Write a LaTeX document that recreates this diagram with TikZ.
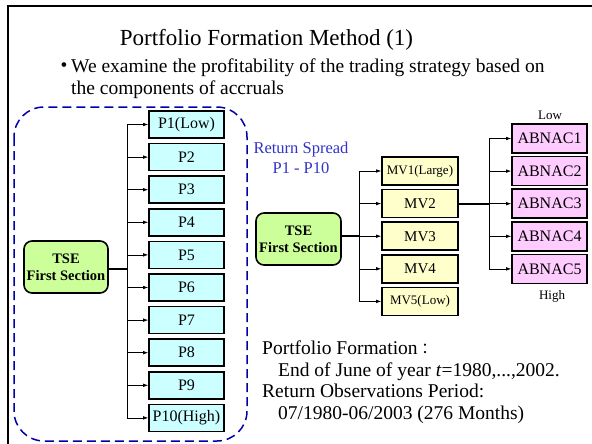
\documentclass[tikz,border=0pt]{standalone}
\usepackage{fontspec}
\setmainfont{Liberation Serif}
\newfontfamily\cjk{Noto Sans CJK JP}
\usetikzlibrary{arrows.meta}
\definecolor{pcyan}{HTML}{CCFFFF}
\definecolor{tgreen}{HTML}{CCFF99}
\definecolor{myel}{HTML}{FFFFCC}
\definecolor{apink}{HTML}{FFCCFF}
\definecolor{dblue}{HTML}{0000AA}
\definecolor{tblue}{HTML}{3333CC}
\tikzset{
  box/.style={draw=black, line width=1.6pt, minimum height=27pt, inner sep=0pt, font=\fontsize{16}{17}\selectfont},
  pbox/.style={box, fill=pcyan, minimum width=75pt},
  mvbox/.style={box, fill=myel, minimum width=76pt, minimum height=28pt},
  abox/.style={box, fill=apink, minimum width=75pt, minimum height=29pt},
  tsebox/.style={draw=black, line width=1.6pt, fill=tgreen, rounded corners=8pt, minimum width=84pt, minimum height=52pt, inner sep=0pt, align=center, font=\bfseries\fontsize{14.5}{17}\selectfont},
  branch/.style={line width=0.6pt, -{Latex[length=5pt,width=3.5pt]}},
  trunk/.style={line width=2pt},
  vline/.style={line width=0.6pt},
}
\begin{document}
\begin{tikzpicture}[x=1pt,y=-1pt]
\useasboundingbox (0,0) rectangle (592,444);
\fill[white] (0,0) rectangle (592,444);
% frame
\draw[line width=2pt] (8,444) -- (8,6) -- (592,6);
% title
\node[font=\fontsize{23}{26}\selectfont] (title) at (266.5,40) {Portfolio Formation Method (1)};
\node[font=\fontsize{19.5}{22}\selectfont, inner sep=0pt] (bul) at (64,67) {\textbullet};
\node[anchor=west, font=\fontsize{19.5}{22}\selectfont, align=left, inner sep=0pt] (btext) at (71,78.5) {We examine the profitability of the trading strategy based on\\the components of accruals};
% dashed region
\draw[dblue, line width=1.5pt, dash pattern=on 9pt off 5pt, rounded corners=30pt] (14,107) rectangle (247,441);
\node[tblue, font=\fontsize{16.5}{20}\selectfont, align=center] (rs) at (301,158) {Return Spread\\P1 - P10};
% left tree
\node[tsebox] (tse1) at (66,267) {TSE\\First Section};
\foreach \i/\t in {1/P1(Low),2/P2,3/P3,4/P4,5/P5,6/P6,7/P7,8/P8,9/P9,10/P10(High)}{
  \node[pbox] (p\i) at (186.5,{124.5+32.6*(\i-1)}) {\t};
}
\coordinate (b1) at (127,269);
\draw[trunk] (tse1.east |- b1) -- (b1);
\draw[vline] (b1 |- p1.west) -- (b1 |- p10.west);
\foreach \i in {1,...,10}{ \draw[branch] (b1 |- p\i.west) -- (p\i.west); }
% middle tree
\node[tsebox, minimum width=85pt] (tse2) at (298.5,239) {TSE\\First Section};
\foreach \i/\t/\f in {1/MV1(Large)/13,2/MV2/15,3/MV3/15,4/MV4/15,5/MV5(Low)/13}{
  \node[mvbox, font=\fontsize{\f}{16}\selectfont] (m\i) at (420,{171+32.6*(\i-1)}) {\t};
}
\coordinate (b2) at (359,236);
\draw[trunk] (tse2.east |- b2) -- (b2);
\draw[vline] (b2 |- m1.west) -- (b2 |- m5.west);
\foreach \i in {1,...,5}{ \draw[branch] (b2 |- m\i.west) -- (m\i.west); }
% right tree
\foreach \i in {1,...,5}{
  \node[abox] (a\i) at (549.5,{138.5+32.6*(\i-1)}) {ABNAC\i};
}
\coordinate (b3) at (489,203.5);
\draw[trunk] (m2.east |- b3) -- (b3);
\draw[vline] (b3 |- a1.west) -- (b3 |- a5.west);
\foreach \i in {1,...,5}{ \draw[branch] (b3 |- a\i.west) -- (a\i.west); }
\node[font=\fontsize{13}{15}\selectfont] (low) at (550,115) {Low};
\node[font=\fontsize{13}{15}\selectfont] (high) at (552,296) {High};
% bottom text
\node[anchor=north west, font=\fontsize{19.5}{21.5}\selectfont, align=left, inner sep=0pt] (info) at (262,341) {Portfolio Formation{\cjk\fontsize{15}{15}\selectfont ：}\\
\hspace*{16pt}End of June of year \textit{t}=1980,...,2002.\\
Return Observations Period:\\
\hspace*{16pt}07/1980-06/2003 (276 Months)};
\end{tikzpicture}
\end{document}
